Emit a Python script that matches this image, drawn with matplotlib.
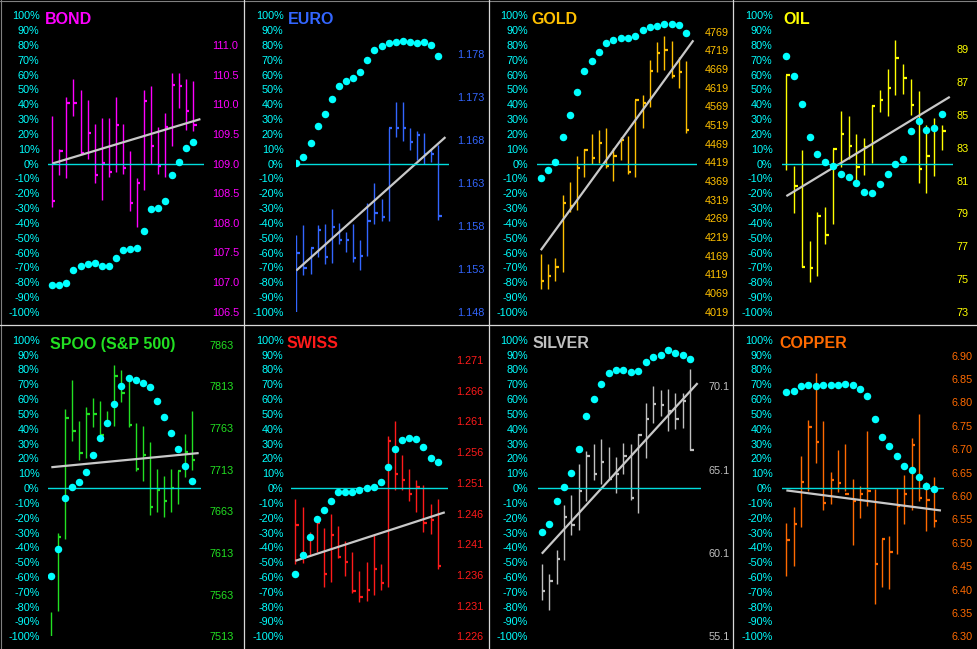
import numpy as np
import matplotlib
matplotlib.use("Agg")
import matplotlib.pyplot as plt

plt.rcParams['font.family'] = ['Liberation Sans', 'DejaVu Sans']

# ---------------- data ----------------
pct_ticks = list(range(-100, 101, 10))
pct_labels = [f"{t}%" for t in pct_ticks]

bond_high = [109.80,109.25,110.13,110.42,110.24,110.08,109.66,109.76,109.77,110.13,109.66,109.22,108.76,110.24,110.30,109.62,109.86,110.52,110.53,110.42,110.39]
bond_low = [108.27,108.80,108.75,109.80,109.16,109.07,108.67,108.39,108.78,108.86,108.83,108.20,107.93,108.56,109.00,108.82,108.78,109.30,109.93,109.56,109.55]
bond_close = [108.37,109.21,110.02,110.02,109.17,109.52,108.81,109.01,108.85,109.65,108.93,108.34,108.67,110.06,109.30,108.96,109.61,110.33,110.30,109.89,109.65]
bond_osc = [-82.0,-82.0,-80.7,-71.5,-69.0,-67.9,-67.0,-69.0,-69.0,-63.6,-58.2,-57.5,-57.3,-45.4,-30.8,-29.7,-25.4,-7.6,0.9,10.6,14.6]
bond_trend = [109.0, 109.75]
bond_ticks = [106.5,107.0,107.5,108.0,108.5,109.0,109.5,110.0,110.5,111.0]
bond_ticklabels = ["106.5","107.0","107.5","108.0","108.5","109.0","109.5","110.0","110.5","111.0"]
bond_range = [106.5, 111.5]

euro_high = [1.1569,1.1581,1.1554,1.1581,1.1582,1.1600,1.1583,1.1573,1.1582,1.1563,1.1606,1.1630,1.1611,1.1694,1.1724,1.1724,1.1693,1.1690,1.1688,1.1669,1.1674]
euro_low = [1.1478,1.1523,1.1524,1.1544,1.1535,1.1537,1.1559,1.1550,1.1538,1.1528,1.1545,1.1582,1.1586,1.1585,1.1683,1.1679,1.1668,1.1656,1.1652,1.1654,1.1587]
euro_close = [1.1548,1.1531,1.1554,1.1575,1.1544,1.1578,1.1563,1.1563,1.1543,1.1545,1.1586,1.1595,1.1590,1.1694,1.1694,1.1694,1.1677,1.1686,1.1663,1.1663,1.1591]
euro_osc = [0.4,4.5,13.9,25.2,33.3,43.4,52.1,55.7,57.8,61.8,69.7,76.4,79.3,81.3,82.0,82.7,82.0,81.3,82.0,80.2,72.4]
euro_trend = [1.1528, 1.1683]
euro_ticks = [1.148,1.153,1.158,1.163,1.168,1.173,1.178]
euro_ticklabels = ["1.148","1.153","1.158","1.163","1.168","1.173","1.178"]
euro_range = [1.148, 1.18245]

gold_high = [4173,4147,4164,4331,4367,4436,4456,4496,4505,4511,4458,4487,4489,4587,4599,4693,4742,4757,4744,4700,4690]
gold_low = [4081,4079,4102,4126,4285,4291,4379,4416,4418,4405,4370,4425,4387,4380,4510,4568,4661,4666,4644,4619,4499]
gold_close = [4102,4114,4138,4311,4303,4404,4453,4432,4471,4410,4436,4478,4394,4586,4579,4664,4713,4721,4650,4661,4505]
gold_osc = [-9.7,-4.5,1.1,18.0,32.6,48.1,62.5,69.2,75.3,81.3,83.6,84.7,84.9,86.3,90.1,92.4,93.0,94.2,94.4,93.3,88.3]
gold_trend = [4184, 4746]
gold_ticks = [4019,4069,4119,4169,4219,4269,4319,4369,4419,4469,4519,4569,4619,4669,4719,4769]
gold_ticklabels = [str(v) for v in gold_ticks]
gold_range = [4019, 4813]

oil_high = [87.42,81.87,82.89,77.32,79.07,79.36,82.95,85.22,84.92,83.86,83.60,85.63,86.54,87.78,89.59,88.09,87.17,86.46,84.37,84.84,84.37]
oil_low = [81.63,79.03,75.74,74.83,75.17,77.12,78.34,81.83,82.34,81.02,81.32,82.04,85.18,84.92,86.20,86.30,84.98,80.86,80.25,81.28,82.85]
oil_close = [87.42,80.68,75.74,75.68,78.83,77.67,82.95,83.82,83.13,81.83,83.05,85.53,85.93,86.64,88.47,87.27,85.63,81.69,82.50,84.21,84.03]
oil_osc = [72.4,58.9,40.0,18.0,6.5,1.1,-1.6,-7.0,-9.0,-13.0,-19.1,-19.8,-13.7,-7.0,-0.2,3.1,22.0,28.8,22.5,24.0,33.3]
oil_trend = [80.05, 86.10]
oil_ticks = [73,75,77,79,81,83,85,87,89]
oil_ticklabels = [str(v) for v in oil_ticks]
oil_range = [73, 91.07]

spoo_high = [7542,7637,7786,7821,7771,7788,7799,7796,7783,7839,7833,7825,7769,7765,7746,7714,7705,7714,7711,7756,7783]
spoo_low = [7508,7543,7630,7747,7725,7727,7764,7749,7765,7765,7794,7764,7712,7699,7659,7662,7656,7662,7672,7704,7713]
spoo_close = [7508,7632,7775,7759,7733,7780,7780,7755,7768,7826,7805,7767,7714,7731,7668,7689,7676,7691,7711,7734,7725]
spoo_osc = [-59.4,-41.3,-7.0,0.5,3.9,10.7,22.2,34.0,43.8,56.7,68.5,74.1,73.2,71.0,68.0,58.7,48.1,37.0,26.3,14.7,4.5]
spoo_trend = [7716, 7733]
spoo_ticks = [7513,7563,7613,7663,7713,7763,7813,7863]
spoo_ticklabels = [str(v) for v in spoo_ticks]
spoo_range = [7513, 7869]

swiss_high = [1.2483,1.2470,1.2430,1.2454,1.2436,1.2459,1.2440,1.2415,1.2398,1.2367,1.2381,1.2427,1.2377,1.2587,1.2611,1.2556,1.2533,1.2515,1.2506,1.2476,1.2483]
swiss_low = [1.2377,1.2379,1.2393,1.2398,1.2341,1.2348,1.2387,1.2359,1.2331,1.2316,1.2318,1.2328,1.2335,1.2340,1.2499,1.2498,1.2481,1.2462,1.2430,1.2427,1.2369]
swiss_close = [1.2441,1.2396,1.2419,1.2444,1.2362,1.2425,1.2389,1.2381,1.2334,1.2324,1.2336,1.2370,1.2347,1.2578,1.2524,1.2514,1.2492,1.2504,1.2444,1.2450,1.2374]
swiss_osc = [-58.1,-45.0,-32.7,-20.9,-14.6,-8.6,-2.5,-2.5,-2.5,-1.1,0.2,0.9,3.8,14.0,26.4,32.4,33.8,33.1,27.9,20.3,17.3]
swiss_trend = [1.2383, 1.2462]
swiss_ticks = [1.226,1.231,1.236,1.241,1.246,1.251,1.256,1.261,1.266,1.271]
swiss_ticklabels = ["1.226","1.231","1.236","1.241","1.246","1.251","1.256","1.261","1.266","1.271"]
swiss_range = [1.226, 1.2743]

silver_high = [59.42,58.86,60.30,63.00,63.60,65.46,66.22,66.66,66.96,66.46,65.86,66.72,66.66,67.26,69.12,70.10,69.90,69.96,69.70,69.70,71.16]
silver_low = [57.26,56.70,58.22,59.66,61.16,61.46,63.20,64.46,64.22,64.50,63.70,64.86,63.26,62.50,65.80,67.92,68.32,67.40,67.56,67.60,66.26]
silver_close = [57.80,58.40,59.76,62.26,61.80,63.80,65.90,64.86,65.56,64.56,64.82,65.90,63.42,67.16,68.12,69.06,69.00,68.62,68.12,69.20,66.26]
silver_osc = [-29.4,-24.0,-8.5,0.7,9.9,26.5,48.5,59.8,70.3,77.3,79.8,79.8,78.2,78.7,84.9,88.5,89.7,92.8,91.2,89.9,87.2]
silver_trend = [60.06, 70.3]
silver_ticks = [55.1,60.1,65.1,70.1]
silver_ticklabels = ["55.1","60.1","65.1","70.1"]
silver_range = [55.1, 72.9]

copper_high = [6.542,6.576,6.686,6.763,6.863,6.761,6.651,6.699,6.712,6.637,6.622,6.740,6.616,6.508,6.515,6.617,6.644,6.724,6.775,6.631,6.641]
copper_low = [6.428,6.450,6.533,6.610,6.671,6.569,6.582,6.608,6.610,6.495,6.553,6.578,6.369,6.405,6.401,6.476,6.540,6.569,6.589,6.525,6.534]
copper_close = [6.505,6.541,6.629,6.747,6.715,6.584,6.634,6.628,6.605,6.589,6.605,6.610,6.455,6.507,6.480,6.578,6.604,6.708,6.596,6.591,6.546]
copper_osc = [64.5,65.8,68.5,69.7,69.0,69.2,69.2,69.2,70.3,69.7,66.7,61.8,46.7,34.2,28.1,21.3,14.6,11.9,7.2,1.1,-0.7]
copper_trend = [6.612, 6.569]
copper_ticks = [6.30,6.35,6.40,6.45,6.50,6.55,6.60,6.65,6.70,6.75,6.80,6.85,6.90]
copper_ticklabels = ["6.30","6.35","6.40","6.45","6.50","6.55","6.60","6.65","6.70","6.75","6.80","6.85","6.90"]
copper_range = [6.30, 6.934]

titles = ["BOND", "EURO", "GOLD", "OIL", "SPOO (S&P 500)", "SWISS", "SILVER", "COPPER"]
colors = ["#ff00ff", "#3366ff", "#ffc000", "#ffff00", "#22e022", "#ff1a1a", "#c0c0c0", "#ff6a00"]

panels = [
    (bond_high, bond_low, bond_close, bond_osc, bond_trend, bond_ticks, bond_ticklabels, bond_range),
    (euro_high, euro_low, euro_close, euro_osc, euro_trend, euro_ticks, euro_ticklabels, euro_range),
    (gold_high, gold_low, gold_close, gold_osc, gold_trend, gold_ticks, gold_ticklabels, gold_range),
    (oil_high, oil_low, oil_close, oil_osc, oil_trend, oil_ticks, oil_ticklabels, oil_range),
    (spoo_high, spoo_low, spoo_close, spoo_osc, spoo_trend, spoo_ticks, spoo_ticklabels, spoo_range),
    (swiss_high, swiss_low, swiss_close, swiss_osc, swiss_trend, swiss_ticks, swiss_ticklabels, swiss_range),
    (silver_high, silver_low, silver_close, silver_osc, silver_trend, silver_ticks, silver_ticklabels, silver_range),
    (copper_high, copper_low, copper_close, copper_osc, copper_trend, copper_ticks, copper_ticklabels, copper_range),
]

# ---------------- layout (pixels) ----------------
W, H = 977, 649
col_x = [0, 244, 488.5, 733]
row_y = [0, 324.5]
# per panel: axes left, axes right, xlim lo, xlim hi, right-label left edge, title x
layout = [
    (48.3, 204.0, -0.57, 21.51, 211.7, 45.0),
    (51.7, 205.0, -0.09, 21.50, 213.3, 44.3),
    (48.3, 208.3, -0.55, 21.47, 216.0, 42.7),
    (49.0, 220.0, -0.56, 21.41, 223.3, 50.7),
    (48.3, 201.0, -0.43, 21.33, 209.3, 50.0),
    (46.7, 204.0, -0.66, 21.45, 212.0, 42.7),
    (49.0, 212.0, -0.58, 21.39, 220.0, 44.3),
    (49.0, 211.3, -0.59, 21.45, 218.7, 46.7),
]
ax_top, ax_bot = 15.3, 311.8
left_label_edge = 39.5

CYAN = "#00ffff"
ZERO = "#00dede"
TREND = "#c8c8c8"

fig = plt.figure(figsize=(W / 100, H / 100), dpi=100, facecolor="black")

for i, (hi, lo, cl, osc, trend, pticks, plabels, prange) in enumerate(panels):
    r, c = divmod(i, 4)
    ox, oy = col_x[c], row_y[r]
    axl, axr, xlo, xhi, rlab, tx = layout[i]
    rect = [(ox + axl) / W, 1 - (oy + ax_bot) / H, (axr - axl) / W, (ax_bot - ax_top) / H]
    ax = fig.add_axes(rect)
    ax2 = ax.twinx()
    ax.set_zorder(ax2.get_zorder() + 1)
    ax.patch.set_visible(False)
    ax2.patch.set_visible(False)
    col = colors[i]
    x = np.arange(len(hi))

    # price bars
    ax2.vlines(x, lo, hi, color=col, lw=1.0)
    ax2.hlines(cl, x, x + 0.45, color=col, lw=1.6)
    ax2.plot([0, len(hi)], trend, color=TREND, lw=1.6, solid_capstyle="butt", zorder=3)
    ax2.set_ylim(*prange)
    ax2.set_yticks(pticks)
    ax2.set_yticklabels(plabels)
    ax2.tick_params(axis="y", length=0, pad=(rlab - axr) * 0.72, labelsize=7.8, labelcolor=col)

    # oscillator
    ax.axhline(0, color=ZERO, lw=1.0, zorder=1)
    ax.plot(x, osc, "o", ms=5.4, color=CYAN, mec="none", zorder=4)
    ax.set_ylim(-100, 100)
    ax.set_xlim(xlo, xhi)
    ax2.set_xlim(xlo, xhi)
    ax.set_yticks(pct_ticks)
    ax.set_yticklabels(pct_labels)
    ax.tick_params(axis="y", length=0, pad=(axl - left_label_edge) * 0.72, labelsize=7.8, labelcolor=CYAN)
    ax.set_xticks([])
    for a in (ax, ax2):
        for s in a.spines.values():
            s.set_visible(False)

    fig.text((ox + tx) / W, 1 - (oy + 19.5) / H, titles[i], color=col, fontsize=11.5,
             fontweight="bold", ha="left", va="center")

# panel borders
ov = fig.add_axes([0, 0, 1, 1], zorder=50)
ov.set_xlim(0, W)
ov.set_ylim(H, 0)
ov.axis("off")
ov.patch.set_visible(False)
ov.plot([0, W], [0.5, 0.5], color="#808080", lw=0.8)
ov.plot([0.5, 0.5], [0, H], color="#808080", lw=0.8)
for xv in col_x[1:]:
    ov.plot([xv, xv], [0, H], color="#d8d8d8", lw=0.9)
ov.plot([0, W], [row_y[1], row_y[1]], color="#d8d8d8", lw=0.9)

fig.savefig("out.png", dpi=100, facecolor="black")
